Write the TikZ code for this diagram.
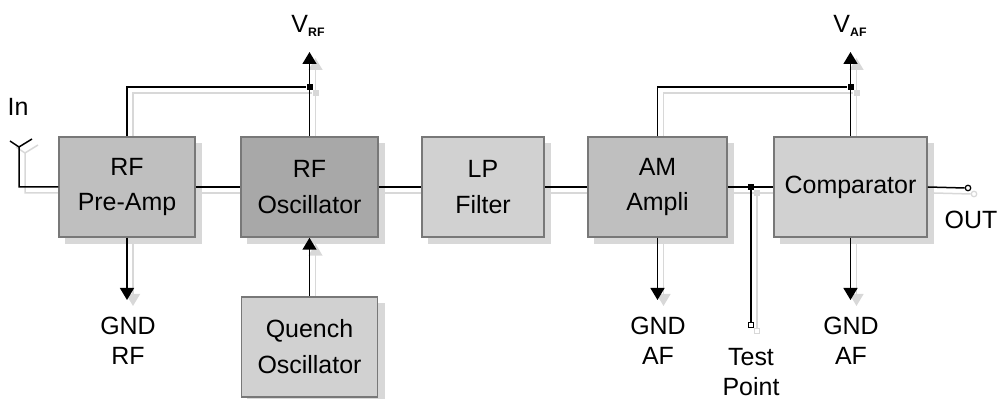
\documentclass[tikz,border=0pt]{standalone}
\usepackage{fontspec}
\setmainfont{Liberation Sans}
\usetikzlibrary{arrows.meta, backgrounds}

\definecolor{shadowgray}{HTML}{D8D8D8}
\definecolor{framegray}{HTML}{787878}

\tikzset{
	blockbox/.style = {draw = framegray, line width = 0.3mm, inner sep = 0, align = center,
		font = \fontsize{14.2pt}{20.4pt}\selectfont},
	labeltext/.style = {inner sep = 0, align = center, font = \fontsize{14.2pt}{17pt}\selectfont},
	wire/.style = {line width = 0.3mm},
	feed/.style = {line width = 0.3mm, -{Triangle[width = 2.8mm, length = 2.4mm]}},
	joint/.style = {fill, inner sep = 0, minimum size = 1.2mm},
	testpad/.style = {draw, fill = white, line width = 0.25mm, inner sep = 0, minimum size = 1.1mm},
	outpad/.style = {draw, circle, fill = white, line width = 0.25mm, inner sep = 0, minimum size = 1.1mm}
}

\newcommand\subtext[1]{\raisebox{-0.7mm}{\fontsize{7pt}{7pt}\selectfont\bfseries #1}}

% alle Leitungen, wird fuer den Schatten zweimal benutzt
\newcommand\wiring{
	\node [joint] (joinrf) at (61.9mm, 17.4mm) {};
	\node [joint] (joinaf) at (170.1mm, 17.4mm) {};
	\node [joint] (jointest) at (150.2mm, 37.4mm) {};
	\node [testpad] (testend) at (150.2mm, 65mm) {};
	\node [outpad] (outend) at (193.6mm, 37.6mm) {};

	% Antenne
	\draw [wire] (preamp.west) -- (antfoot) -- (antstem) -- (antleft);
	\draw [wire] (antstem) -- (antright);

	% Signalweg
	\draw [wire] (preamp.east) -- (rfosc.west);
	\draw [wire] (rfosc.east) -- (lpfilter.west);
	\draw [wire] (lpfilter.east) -- (amampli.west);
	\draw [wire] (amampli.east) -- (jointest) -- (comparator.west);
	\draw [wire] (jointest) -- (testend.north);
	\draw [wire] (comparator.east) -- (outend.west);
	\draw [feed] (quench.north) -- (rfosc.south);

	% Versorgung
	\draw [wire] (preamp.north) |- (joinrf);
	\draw [feed] (rfosc.north) -- (vrftip);
	\draw [wire] (amampli.north) |- (joinaf);
	\draw [feed] (comparator.north) -- (vaftip);

	% Masse
	\draw [feed] (preamp.south) -- (gndrftip);
	\draw [feed] (amampli.south) -- (gndamtip);
	\draw [feed] (comparator.south) -- (gndcomptip);
}

\begin{document}
\begin{tikzpicture}[yscale = -1]
	\useasboundingbox (0, 0) rectangle (200mm, 79.8mm);

	% Bloecke
	\node [blockbox, fill = black!25, minimum width = 27.2mm, minimum height = 20mm] (preamp) at (25.4mm, 37.4mm) {RF\\Pre-Amp};
	\node [blockbox, fill = black!34, minimum width = 27.4mm, minimum height = 20mm] (rfosc) at (61.9mm, 37.4mm) {RF\\Oscillator};
	\node [blockbox, fill = black!18, minimum width = 24.4mm, minimum height = 20mm] (lpfilter) at (96.6mm, 37.4mm) {LP\\Filter};
	\node [blockbox, fill = black!25, minimum width = 27.8mm, minimum height = 20mm] (amampli) at (131.5mm, 37.4mm) {AM\\Ampli};
	\node [blockbox, fill = black!18, minimum width = 30.6mm, minimum height = 20mm] (comparator) at (170.1mm, 37.4mm) {Comparator};
	\node [blockbox, fill = black!18, minimum width = 27.2mm, minimum height = 20mm] (quench) at (61.9mm, 69.4mm) {Quench\\Oscillator};

	% freie Enden
	\coordinate (antfoot) at (3.8mm, 37.4mm);
	\coordinate (antstem) at (3.8mm, 29.4mm);
	\coordinate (antleft) at (2mm, 28.2mm);
	\coordinate (antright) at (6.4mm, 27.8mm);
	\coordinate (vrftip) at (61.9mm, 10.4mm);
	\coordinate (vaftip) at (170.1mm, 10.4mm);
	\coordinate (gndrftip) at (25.4mm, 60mm);
	\coordinate (gndamtip) at (131.5mm, 60mm);
	\coordinate (gndcomptip) at (170.1mm, 60mm);

	% Schatten
	\begin{pgfonlayer}{background}
		\foreach \b in {preamp, rfosc, lpfilter, amampli, comparator, quench} {
			\fill [shadowgray] ([shift = {(1.3mm, 1.3mm)}] \b.north west) rectangle ([shift = {(1.3mm, 1.3mm)}] \b.south east);
		}
		\begin{scope}[color = shadowgray, transform canvas = {xshift = 1.2mm, yshift = -1.2mm}]
			\wiring
		\end{scope}
	\end{pgfonlayer}

	\wiring

	% Beschriftung
	\node [labeltext] (inlabel) at (3.6mm, 21.4mm) {In};
	\node [labeltext] (vrflabel) at (61.6mm, 5.2mm) {V\subtext{RF}};
	\node [labeltext] (vaflabel) at (170mm, 5.2mm) {V\subtext{AF}};
	\node [labeltext] (gndrflabel) at (25.6mm, 68.2mm) {GND\\RF};
	\node [labeltext] (gndamlabel) at (131.6mm, 68.2mm) {GND\\AF};
	\node [labeltext] (testlabel) at (150.2mm, 74.4mm) {Test\\Point};
	\node [labeltext] (gndcomplabel) at (170.2mm, 68.2mm) {GND\\AF};
	\node [labeltext] (outlabel) at (194.2mm, 44mm) {OUT};
\end{tikzpicture}
\end{document}
